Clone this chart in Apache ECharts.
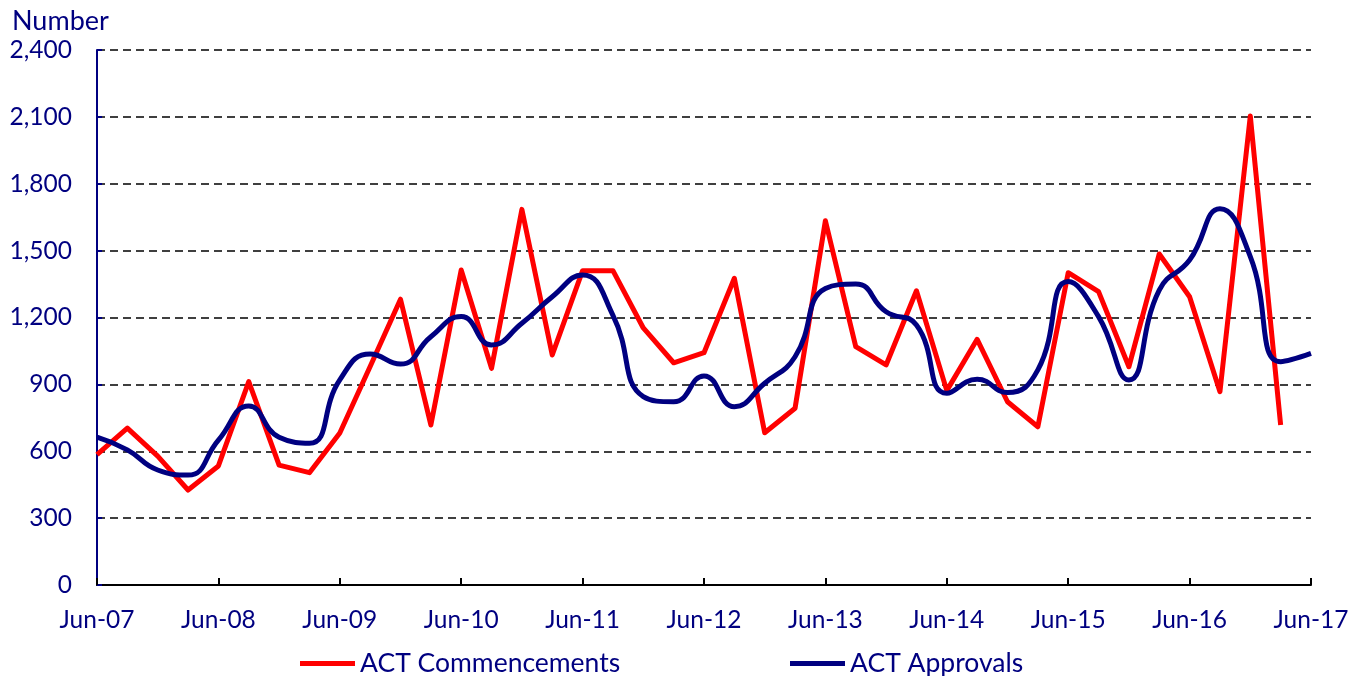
<!DOCTYPE html>
<html>
<head>
<meta charset="utf-8">
<script src="https://cdn.jsdelivr.net/npm/echarts@6/dist/echarts.min.js"></script>
<style>
    html, body { margin: 0; padding: 0; background: #fff; }
    #chart { width: 1367px; height: 676px; }
</style>
</head>
<body>
<div id="chart"></div>
<script>
"use strict"

// quarterly, Jun-07 .. Jun-17
var quarters = [
    "Jun-07","Sep-07","Dec-07","Mar-08",
    "Jun-08","Sep-08","Dec-08","Mar-09",
    "Jun-09","Sep-09","Dec-09","Mar-10",
    "Jun-10","Sep-10","Dec-10","Mar-11",
    "Jun-11","Sep-11","Dec-11","Mar-12",
    "Jun-12","Sep-12","Dec-12","Mar-13",
    "Jun-13","Sep-13","Dec-13","Mar-14",
    "Jun-14","Sep-14","Dec-14","Mar-15",
    "Jun-15","Sep-15","Dec-15","Mar-16",
    "Jun-16","Sep-16","Dec-16","Mar-17",
    "Jun-17"
];

var commencements = [
    585, 704, 578, 426, 534, 912, 538, 504, 682, 980,
    1282, 718, 1413, 972, 1685, 1032, 1410, 1410, 1153, 997,
    1042, 1376, 683, 793, 1634, 1069, 987, 1320, 872, 1102,
    822, 710, 1401, 1316, 979, 1485, 1293, 867, 2104, 718,
    null
];

var approvals = [
    663, 606, 516, 493, 650, 803, 663, 636, 920, 1036,
    991, 1114, 1204, 1077, 1174, 1293, 1391, 1210, 845, 822,
    938, 800, 905, 1024, 1330, 1350, 1226, 1166, 860, 923,
    863, 965, 1361, 1204, 920, 1323, 1458, 1688, 1473, 1002,
    1039
];

var seriesNames = ["ACT Commencements", "ACT Approvals"];
var seriesColors = ["#ff0000", "#000080"];

var FONT = "Lato";
var NAVY = "#000080";

function drawChart(target){
    var chart = echarts.init(document.getElementById(target));
    var legendText = { fontFamily: FONT, fontSize: 26.5, color: NAVY };
    var option = {
        animation: false,
        textStyle: { fontFamily: FONT },
        title: {
            text: "Number",
            left: 7,
            top: 3,
            textStyle: {
                fontFamily: FONT,
                fontSize: 27,
                fontWeight: 'normal',
                color: NAVY
            }
        },
        legend: [
            {
                left: 295,
                top: 645,
                itemWidth: 55,
                itemHeight: 5,
                itemGap: 4,
                icon: 'rect',
                textStyle: legendText,
                data: [seriesNames[0]]
            },
            {
                left: 785,
                top: 645,
                itemWidth: 55,
                itemHeight: 5,
                icon: 'rect',
                textStyle: legendText,
                data: [seriesNames[1]]
            }
        ],
        grid: {
            left: 97,
            right: 56,
            top: 50,
            bottom: 91,
            containLabel: false
        },
        xAxis: {
            type: 'category',
            boundaryGap: false,
            data: quarters,
            axisLine: { lineStyle: { color: '#000', width: 2 } },
            axisTick: {
                interval: 3,
                inside: true,
                length: 7,
                lineStyle: { color: '#000', width: 2 }
            },
            axisLabel: {
                interval: 3,
                margin: 23,
                color: NAVY,
                fontFamily: FONT,
                fontSize: 24.5
            },
            splitLine: { show: false }
        },
        yAxis: {
            type: 'value',
            min: 0,
            max: 2400,
            interval: 300,
            axisLine: { show: true, lineStyle: { color: NAVY, width: 2 } },
            axisTick: {
                show: true,
                inside: true,
                length: 5,
                lineStyle: { color: NAVY, width: 2 }
            },
            axisLabel: {
                margin: 25,
                color: NAVY,
                fontFamily: FONT,
                fontSize: 24.5,
                formatter: function(v){
                    return v.toLocaleString('en-US');
                }
            },
            splitLine: {
                lineStyle: { color: '#000', width: 1.5, type: [8, 5] }
            }
        },
        series: [
            {
                name: seriesNames[0],
                type: 'line',
                data: commencements,
                showSymbol: false,
                symbol: 'none',
                color: seriesColors[0],
                lineStyle: { color: seriesColors[0], width: 5, join: 'round' },
                z: 2
            },
            {
                name: seriesNames[1],
                type: 'line',
                data: approvals,
                smooth: 0.5,
                showSymbol: false,
                symbol: 'none',
                color: seriesColors[1],
                lineStyle: { color: seriesColors[1], width: 5 },
                z: 3
            }
        ]
    };
    chart.setOption(option);
}

drawChart("chart");
</script>
</body>
</html>
